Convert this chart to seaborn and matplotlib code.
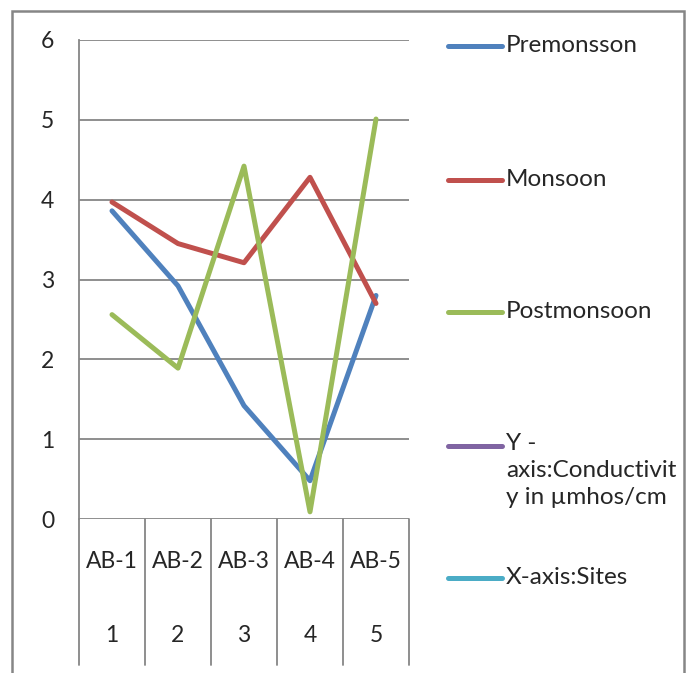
import numpy as np
import pandas as pd
import matplotlib
matplotlib.use("Agg")
import matplotlib.pyplot as plt
import seaborn as sns
from matplotlib.lines import Line2D
from matplotlib.patches import Rectangle

# values
sites = ["AB-1", "AB-2", "AB-3", "AB-4", "AB-5"]
site_no = ["1", "2", "3", "4", "5"]
premonsoon = [3.86, 2.92, 1.42, 0.48, 2.80]
monsoon = [3.97, 3.45, 3.21, 4.28, 2.70]
postmonsoon = [2.56, 1.89, 4.42, 0.09, 5.01]

series_names = ["Premonsson", "Monsoon", "Postmonsoon",
                "Y -\naxis:Conductivit\ny in \u00b5mhos/cm", "X-axis:Sites"]
colors = ["#4F81BD", "#C0504D", "#9BBB59", "#8064A2", "#4BACC6"]

df = pd.DataFrame({
    "site": sites * 3,
    "value": premonsoon + monsoon + postmonsoon,
    "series": [series_names[0]] * 5 + [series_names[1]] * 5 + [series_names[2]] * 5,
})
df["pos"] = df["site"].map({s: i for i, s in enumerate(sites)})

sns.set_style("white")
plt.rcParams["font.family"] = ["Lato", "DejaVu Sans"]
fs = 16.5
leg_fs = 17.5

W, H = 692, 673
fig = plt.figure(figsize=(W / 100, H / 100), dpi=100)
ax = fig.add_axes([79 / W, 1 - 519 / H, (409 - 79) / W, (519 - 40) / H])

sns.lineplot(data=df, x="pos", y="value", hue="series",
             palette=dict(zip(series_names[:3], colors[:3])),
             linewidth=3.6, ax=ax, legend=False, sort=False)
for l in ax.lines:
    l.set_solid_joinstyle("round")
    l.set_solid_capstyle("round")

grid_c = "#868686"
ax.set_xlim(-0.5, 4.5)
ax.set_ylim(0, 6)
ax.set_yticks(range(0, 7))
ax.yaxis.grid(True, color=grid_c, linewidth=1.3)
ax.tick_params(axis="y", length=6, width=1.3, color=grid_c, pad=12, labelsize=fs)
ax.set_xticks([])
ax.set_xlabel("")
ax.set_ylabel("")
for side in ["top", "right", "bottom"]:
    ax.spines[side].set_visible(False)
ax.spines["left"].set_color(grid_c)
ax.spines["left"].set_linewidth(1.3)

# two-level category table under the axis
tr = ax.get_xaxis_transform()
bottom = (519 - 665) / (519 - 40)
for b in np.arange(-0.5, 5, 1):
    ax.plot([b, b], [0, bottom], transform=tr, color=grid_c, lw=1.3, clip_on=False)
for i, (s, n) in enumerate(zip(sites, site_no)):
    ax.text(i, (519 - 562) / 479, s, transform=tr, ha="center", va="center", fontsize=fs)
    ax.text(i, (519 - 635) / 479, n, transform=tr, ha="center", va="center", fontsize=fs)

# legend drawn in figure space, Excel style
leg_y = [46, 180, 312, 446, 578]
for name, c, y in zip(series_names, colors, leg_y):
    fy = 1 - y / H
    fig.add_artist(Line2D([448 / W, 502 / W], [fy, fy], color=c, lw=3.6,
                          solid_capstyle="round"))
    if "\n" in name:
        fig.text(506 / W, 1 - (y - 13) / H, name, ha="left", va="top",
                 fontsize=leg_fs, linespacing=1.36)
    else:
        fig.text(506 / W, fy, name, ha="left", va="center", fontsize=leg_fs)

# outer chart border
fig.add_artist(Rectangle((12 / W, -0.05), (684 - 12) / W, 1.05 - 11 / H,
                         transform=fig.transFigure, fill=False,
                         edgecolor=grid_c, lw=1.8))

fig.savefig("out.png", dpi=100)
